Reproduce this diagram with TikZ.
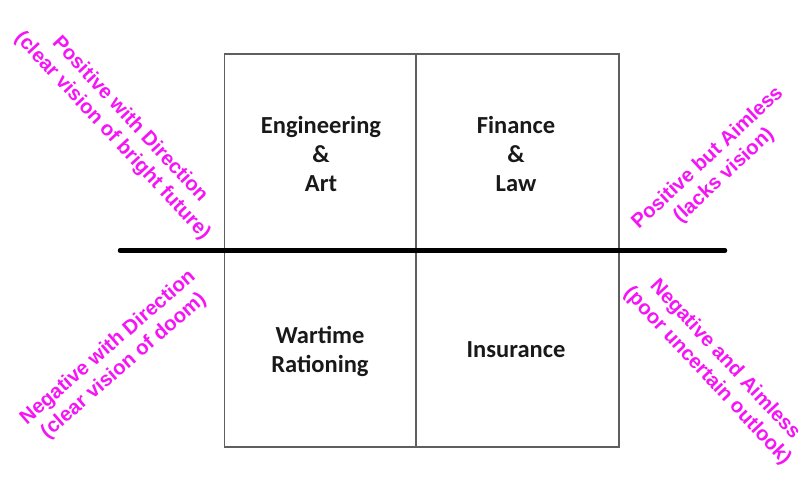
\documentclass[tikz,border=0pt]{standalone}
\usepackage{fontspec}
\setmainfont{Carlito}
\newfontfamily\magfont{Liberation Sans}
\definecolor{mag}{RGB}{245,20,245}
\definecolor{boxgray}{RGB}{95,95,95}
\definecolor{celltext}{RGB}{25,25,25}
\begin{document}
\begin{tikzpicture}[x=1pt,y=-1pt,
  cell/.style={font=\fontsize{24.5}{29}\selectfont\bfseries, text=celltext, align=center, inner sep=0pt},
  lab/.style={font=\magfont\fontsize{20.3}{24}\selectfont\bfseries, text=mag, align=center, inner sep=0pt},
  gridline/.style={draw=boxgray, line width=1.3pt},
  axisline/.style={draw=black, line width=4.5pt, line cap=round}]
\useasboundingbox (0,0) rectangle (812,490);
\coordinate (tl) at (224.5,54);
\coordinate (br) at (619,447);
\coordinate (mt) at (416,54);
\coordinate (mb) at (416,447);
\coordinate (al) at (120,250.5);
\coordinate (ar) at (725,250.5);
\draw[gridline] (tl) rectangle (br);
\draw[gridline] (mt) -- (mb);
\draw[axisline] (al) -- (ar);
\node[cell] (ea) at (321,154) {Engineering\\\&\\Art};
\node[cell] (fl) at (516,154) {Finance\\\&\\Law};
\node[cell] (wr) at (320,351) {Wartime\\Rationing};
\node[cell] (ins) at (516,350) {Insurance};
\node[lab, rotate=-47] (pwd) at (121,128) {Positive with Direction\\(clear vision of bright future)};
\node[lab, rotate=41] (nwd) at (116,357) {Negative with Direction\\(clear vision of doom)};
\node[lab, rotate=43] (pba) at (716,167) {Positive but Aimless\\(lacks vision)};
\node[lab, rotate=-47] (naa) at (716,368) {Negative and Aimless\\(poor uncertain outlook)};
\end{tikzpicture}
\end{document}
